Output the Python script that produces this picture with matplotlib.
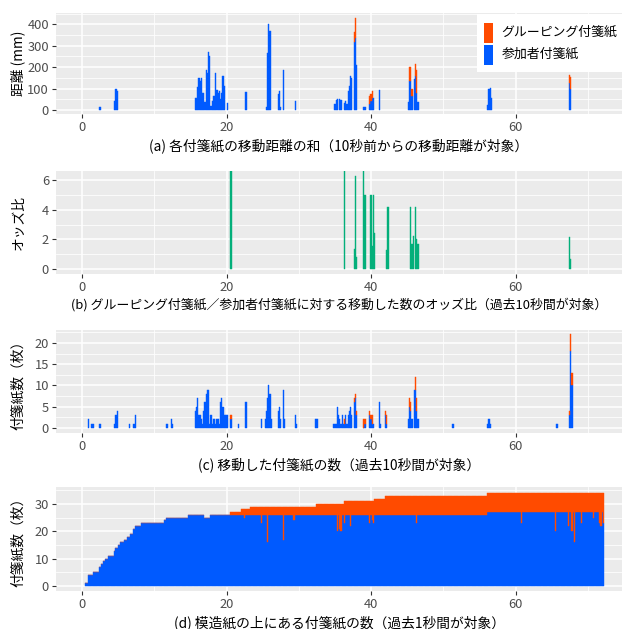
import numpy as np
import matplotlib
matplotlib.use("Agg")
import matplotlib.pyplot as plt
from matplotlib.patches import Rectangle

plt.rcParams['font.family'] = ['Noto Sans CJK JP', 'DejaVu Sans']

RED = '#FF4B00'
BLUE = '#005AFF'
GREEN = '#03AF7A'

# time is in minutes, one bin = 10 seconds
BIN = 1 / 6

# (a) moved distance of sticky notes (mm), 10 s bins
a_k = [14, 15, 27, 28, 29,
       94, 95, 96, 97, 98, 99, 100, 101, 102, 103, 104, 105, 106, 107, 108, 109, 110,
       111, 112, 113, 114, 115, 116, 117, 118,
       121, 136, 153, 154, 155, 156, 163, 164, 165, 167, 177,
       210, 211, 212, 214, 215, 218, 219, 220, 221, 222, 223, 224, 226, 227, 228,
       234, 235, 239, 240, 241, 242, 247,
       271, 272, 273, 274, 276, 277, 278, 279,
       337, 338, 339, 340, 405, 406]
a_blue = [14, 14, 41, 101, 88,
          55, 55, 106, 152, 134, 148, 78, 78, 37, 189, 175, 272, 254, 18, 41, 65, 65,
          175, 92, 78, 88, 51, 78, 157, 115,
          32, 83, 14, 268, 401, 369, 74, 88, 14, 185, 42,
          28, 46, 51, 51, 46, 32, 42, 28, 88, 115, 161, 152, 318, 337, 212,
          14, 14, 28, 42, 55, 55, 92,
          37, 138, 138, 65, 143, 157, 78, 37,
          26, 97, 105, 55, 128, 100]
a_red_k = [226, 227, 239, 240, 241, 272, 273, 274, 277, 278, 405, 406]
a_red = [46, 92, 37, 32, 33, 65, 65, 32, 60, 107, 34, 55]

# (b) odds ratio (values above the axis are cut off)
b_k = [123, 124, 218, 226, 227, 228, 234, 235, 240, 241, 242, 243,
       253, 254, 273, 274, 275, 277, 278, 279, 405, 406]
b_val = [10, 10, 10, 1.33, 6.27, 0.79, 10, 5.0, 5.0, 1.55, 5.0, 2.45,
         1.28, 4.18, 4.18, 1.66, 2.2, 4.18, 2.02, 1.69, 2.13, 0.65]

# (c) number of moved sticky notes
c_k = [5, 8, 9, 14, 15, 27, 28, 29, 39, 43, 44, 70, 71, 74, 75,
       94, 95, 96, 97, 98, 99, 100, 101, 102, 103, 104, 105, 106, 107, 108, 109, 110,
       111, 112, 113, 114, 115, 116, 117, 118, 119, 120, 121, 123, 124,
       130, 136, 149, 152, 153, 154, 155, 156, 157, 163, 164, 165, 167, 168, 177, 178,
       194, 195,
       209, 210, 211, 212, 213, 214, 215, 216, 217, 218, 219, 220, 221, 222, 223, 224,
       226, 227, 228, 234, 235, 239, 240, 241, 242, 247, 248, 252, 253,
       271, 272, 273, 274, 276, 277, 278, 279,
       308, 337, 338, 339, 394, 395, 405, 406, 407]
c_blue = [2, 1, 1, 1, 1, 1, 3, 4, 1, 1, 3, 1, 1, 2, 1,
          4, 5, 7, 3, 3, 2, 1, 4, 6, 8, 9, 9, 1, 3, 1, 2, 2,
          1, 2, 2, 1, 6, 7, 5, 3, 3, 3, 3, 2, 2,
          1, 6, 2, 2, 4, 7, 10, 8, 2, 4, 5, 2, 9, 2, 3, 1,
          2, 2,
          1, 1, 1, 5, 3, 2, 1, 3, 1, 1, 3, 1, 3, 4, 5, 3,
          6, 7, 3, 0, 1, 3, 2, 1, 1, 6, 1, 3, 1,
          2, 5, 4, 2, 9, 9, 4, 2,
          1, 1, 2, 1, 1, 1, 3, 18, 10]
c_red_k = [123, 124, 218, 226, 227, 228, 234, 235, 239, 240, 241, 252, 253,
           272, 273, 277, 278, 405, 406, 407]
c_red = [1, 1, 1, 1, 1, 1, 2, 1, 1, 1, 2, 1, 2, 2, 2, 3, 3, 1, 4, 3]

# (d) sticky notes on the paper: step changes (minutes -> count)
d_blue_t = [0.37, 0.79, 1.34, 2.31, 2.58, 2.86, 3.14, 3.56, 4.39, 4.66, 4.94, 5.22,
            5.77, 6.19, 6.6, 7.02, 7.16, 7.3, 8.13, 11.18, 11.6, 14.6, 16.9, 17.7, 56.1]
d_blue_v = [1, 4, 5, 7, 8, 9, 10, 11, 13, 14, 15, 16,
            17, 18, 19, 20, 21, 22, 23, 24, 25, 26, 25, 26, 27]
d_total_t = [20.5, 22.0, 23.3, 32.5, 36.2, 40.4, 42.0, 56.1]
d_total_v = [27, 28, 29, 30, 31, 32, 33, 34]
d_end = 72.2
# short dips of the participant notes
d_dip_t = [22.5, 24.75, 25.6, 27.8, 29.4, 35.3, 35.6, 35.9, 36.3, 37.1, 39.8, 40.1,
           40.4, 46.3, 60.8, 65.5, 67.3, 67.8, 68.2, 69.1, 70.8, 71.6, 71.9, 72.1]
d_dip_blue = [25, 23, 16, 17, 24, 20, 21, 20, 23, 22, 23, 24,
              23, 23, 23, 20, 22, 20, 16, 23, 25, 23, 22, 23]

W, H = 622, 629
fig = plt.figure(figsize=(W / 100, H / 100), dpi=100)

def make_ax(top, bottom):
    return fig.add_axes([56 / W, 1 - bottom / H, 566 / W, (bottom - top) / H])

def style(ax, yticks, ylim, ylabel, caption, capsize=9.9):
    ax.set_facecolor('#EBEBEB')
    for s in ax.spines.values():
        s.set_visible(False)
    ax.set_xlim(-3.64, 74.75)
    ax.set_ylim(*ylim)
    ax.set_xticks([0, 20, 40, 60])
    ax.set_xticks([10, 30, 50, 70], minor=True)
    ax.set_yticks(yticks)
    step = yticks[1] - yticks[0]
    minor = [v + step / 2 for v in yticks + [yticks[-1] + step]]
    ax.set_yticks([m for m in minor if m < ylim[1]], minor=True)
    ax.grid(which='major', color='white', linewidth=1.1)
    ax.grid(which='minor', color='white', linewidth=0.55)
    ax.set_axisbelow(True)
    ax.tick_params(which='major', length=3, width=0.8, color='#333333',
                   labelcolor='#4D4D4D', labelsize=9.3, pad=2)
    ax.tick_params(which='minor', length=0)
    ax.set_xlabel(caption, fontsize=capsize, labelpad=3, color='black')
    ax.set_ylabel(ylabel, fontsize=9.9, color='black')
    ax.yaxis.set_label_coords(-0.054, 0.5)

# (a)
ax1 = make_ax(13.3, 114.3)
xa = np.array(a_k) * BIN
ax1.bar(xa, a_blue, width=BIN, color=BLUE, edgecolor=BLUE, linewidth=0.3)
blue_lookup = dict(zip(a_k, a_blue))
ax1.bar(np.array(a_red_k) * BIN, a_red, bottom=[blue_lookup[k] for k in a_red_k],
        width=BIN, color=RED, edgecolor=RED, linewidth=0.3)
style(ax1, [0, 100, 200, 300, 400], (-19, 451), '距離 (mm)',
      '(a) 各付箋紙の移動距離の和（10秒前からの移動距離が対象）')

# legend box
fig.add_artist(Rectangle((476.7 / W, 1 - 71.7 / H), (W - 476.7) / W, 58 / H,
                         transform=fig.transFigure, facecolor='white', edgecolor='none', zorder=5))
fig.add_artist(Rectangle((484 / W, 1 - 42.7 / H), 8.7 / W, 20 / H,
                         transform=fig.transFigure, facecolor=RED, edgecolor='none', zorder=6))
fig.add_artist(Rectangle((484 / W, 1 - 64.7 / H), 8.7 / W, 20 / H,
                         transform=fig.transFigure, facecolor=BLUE, edgecolor='none', zorder=6))
fig.text(501.5 / W, 1 - 32.7 / H, 'グルーピング付箋紙', fontsize=9.3, va='center', ha='left', zorder=7)
fig.text(501.5 / W, 1 - 54.7 / H, '参加者付箋紙', fontsize=9.3, va='center', ha='left', zorder=7)

# (b)
ax2 = make_ax(171, 274)
ax2.bar(np.array(b_k) * BIN, b_val, width=BIN, color=GREEN, edgecolor=GREEN, linewidth=0.3)
style(ax2, [0, 2, 4, 6], (-0.34, 6.61), 'オッズ比',
      '(b) グルーピング付箋紙／参加者付箋紙に対する移動した数のオッズ比（過去10秒間が対象）',
      capsize=9.3)

# (c)
ax3 = make_ax(330, 433.3)
ax3.bar(np.array(c_k) * BIN, c_blue, width=BIN, color=BLUE, edgecolor=BLUE, linewidth=0.3)
c_lookup = dict(zip(c_k, c_blue))
ax3.bar(np.array(c_red_k) * BIN, c_red, bottom=[c_lookup[k] for k in c_red_k],
        width=BIN, color=RED, edgecolor=RED, linewidth=0.3)
style(ax3, [0, 5, 10, 15, 20], (-1.3, 23.05), '付箋紙数（枚）',
      '(c) 移動した付箋紙の数（過去10秒間が対象）')

# (d) expand the step changes to 10 s bins
kd = np.arange(int(np.ceil(d_blue_t[0] / BIN)), int(round(d_end / BIN)) + 1)
td = kd * BIN
idx = np.searchsorted(d_blue_t, td, side='right') - 1
d_blue = np.array(d_blue_v)[np.clip(idx, 0, None)].astype(float)
tidx = np.searchsorted(d_total_t, td, side='right') - 1
d_total = np.where(tidx >= 0, np.array(d_total_v)[np.clip(tidx, 0, None)], d_blue)
for t, b in zip(d_dip_t, d_dip_blue):
    i = int(np.argmin(np.abs(td - t)))
    d_blue[i] = b
d_red = np.clip(d_total - d_blue, 0, None)

ax4 = make_ax(487.3, 591)
ax4.bar(td, d_blue, width=BIN, color=BLUE, edgecolor=BLUE, linewidth=0.3)
ax4.bar(td, d_red, bottom=d_blue, width=BIN, color=RED, edgecolor=RED, linewidth=0.3)
style(ax4, [0, 10, 20, 30], (-1.8, 36.1), '付箋紙数（枚）',
      '(d) 模造紙の上にある付箋紙の数（過去1秒間が対象）')

fig.savefig('out.png', dpi=100, facecolor='white')
